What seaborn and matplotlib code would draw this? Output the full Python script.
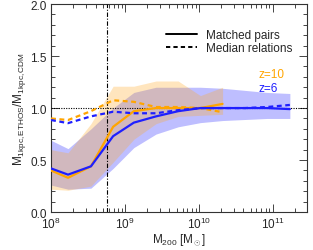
import numpy as np
import pandas as pd
import matplotlib
matplotlib.use("Agg")
import matplotlib.pyplot as plt
from matplotlib.ticker import MultipleLocator, LogLocator, NullFormatter
from matplotlib.lines import Line2D
import seaborn as sns

# ---- data ----
logm_z6 = [8.0, 8.23, 8.54, 8.84, 9.12, 9.42, 9.72, 10.02, 10.32, 10.62, 10.92, 11.23]
matched_z6 = [0.42, 0.36, 0.44, 0.73, 0.86, 0.92, 0.97, 1.0, 1.0, 1.0, 1.0, 0.99]
median_z6 = [0.885, 0.855, 0.92, 0.965, 0.95, 0.95, 0.98, 1.0, 1.0, 1.0, 1.01, 1.03]
lo_z6 = [0.26, 0.22, 0.23, 0.42, 0.62, 0.75, 0.82, 0.86, 0.88, 0.89, 0.90, 0.90]
hi_z6 = [0.69, 0.61, 0.80, 1.00, 1.15, 1.20, 1.20, 1.20, 1.19, 1.17, 1.15, 1.14]

logm_z10 = [8.0, 8.23, 8.54, 8.84, 9.12, 9.42, 9.72, 10.02, 10.32]
matched_z10 = [0.40, 0.33, 0.44, 0.82, 0.97, 1.0, 1.0, 1.0, 1.04]
median_z10 = [0.90, 0.885, 0.97, 1.075, 1.06, 1.01, 1.01, 1.0, 0.96]
lo_z10 = [0.22, 0.21, 0.25, 0.48, 0.70, 0.85, 0.92, 0.93, 0.94]
hi_z10 = [0.60, 0.57, 0.85, 1.21, 1.21, 1.26, 1.26, 1.12, 1.20]

m_cut = 5.7e8
labels = ["Matched pairs", "Median relations"]
z_labels = ["z=10", "z=6"]

# ---- style ----
sns.set_style("ticks")
plt.rcParams['font.family'] = ['Liberation Sans', 'DejaVu Sans']
plt.rcParams['mathtext.fontset'] = 'custom'
plt.rcParams['mathtext.rm'] = 'Liberation Sans'
plt.rcParams['mathtext.it'] = 'Liberation Sans:italic'
plt.rcParams['mathtext.bf'] = 'Liberation Sans:bold'
fs = 8.5

blue = '#1f1fff'
orange = '#ffa500'

fig = plt.figure(figsize=(3.13, 2.51), dpi=100)
ax = fig.add_axes([0.163, 0.151, 0.818, 0.829])

m6 = 10 ** np.array(logm_z6)
m10 = 10 ** np.array(logm_z10)

ax.fill_between(m6, lo_z6, hi_z6, color=(190/255, 190/255, 1.0), lw=0, zorder=1)
ax.fill_between(m10, lo_z10, hi_z10, color=(1.0, 172/255, 40/255), alpha=0.3, lw=0, zorder=2)

df6 = pd.DataFrame({'m': m6, 'matched': matched_z6, 'median': median_z6})
df10 = pd.DataFrame({'m': m10, 'matched': matched_z10, 'median': median_z10})

sns.lineplot(data=df10, x='m', y='matched', color=orange, lw=1.6, ax=ax, zorder=4)
sns.lineplot(data=df6, x='m', y='matched', color=blue, lw=1.6, ax=ax, zorder=5)
sns.lineplot(data=df10, x='m', y='median', color=orange, lw=1.6, ax=ax, zorder=4,
             dashes=False, linestyle=(0, (2.2, 1.6)))
sns.lineplot(data=df6, x='m', y='median', color=blue, lw=1.6, ax=ax, zorder=5,
             dashes=False, linestyle=(0, (2.2, 1.6)))

ax.axhline(1.0, color='black', lw=0.8, ls=(0, (1, 1.2)), zorder=3)
ax.axvline(m_cut, color='black', lw=0.8, ls=(0, (4, 1.5, 1, 1.5)), zorder=3)

ax.set_xscale('log')
ax.set_xlim(1e8, 2.9e11)
ax.set_ylim(0, 2.0)
ax.yaxis.set_major_locator(MultipleLocator(0.5))
ax.yaxis.set_minor_locator(MultipleLocator(0.1))
ax.xaxis.set_major_locator(LogLocator(base=10, numticks=10))
ax.xaxis.set_minor_locator(LogLocator(base=10, subs=np.arange(2, 10), numticks=20))
ax.xaxis.set_minor_formatter(NullFormatter())
ax.yaxis.set_major_formatter(matplotlib.ticker.FormatStrFormatter('%.1f'))

ax.tick_params(which='both', direction='in', top=True, right=True, labelsize=fs,
               color='#444444', width=0.7)
ax.tick_params(which='major', length=6, pad=3)
ax.tick_params(which='minor', length=3)
for s in ax.spines.values():
    s.set_linewidth(0.8)
    s.set_color('#333333')

ax.set_xlabel(r'M$_{\rm 200}$ [M$_\odot$]', fontsize=fs, labelpad=0)
ax.set_ylabel(r'M$_{\rm 1kpc,ETHOS}$/M$_{\rm 1kpc,CDM}$', fontsize=fs, labelpad=2)

handles = [Line2D([], [], color='black', lw=1.4),
           Line2D([], [], color='black', lw=1.4, ls=(0, (2.2, 1.6)))]
ax.legend(handles, labels, loc='upper right', frameon=False, fontsize=fs,
          handlelength=2.6, handletextpad=0.8, labelspacing=0.1,
          bbox_to_anchor=(0.985, 0.93))

ax.text(0.81, 0.664, z_labels[0], color=orange, fontsize=fs, transform=ax.transAxes, va='center')
ax.text(0.81, 0.598, z_labels[1], color=blue, fontsize=fs, transform=ax.transAxes, va='center')

fig.savefig('out.png', dpi=100)
